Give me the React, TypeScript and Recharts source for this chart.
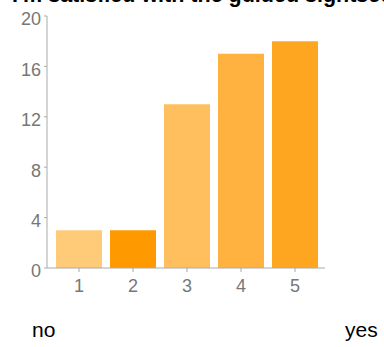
import { BarChart, Bar, XAxis, YAxis, Cell } from "recharts"

const ratings = ["1", "2", "3", "4", "5"]
const counts = [3, 3, 13, 17, 18]
const barColors = ["#FFCB78", "#FF9900", "#FFBF5F", "#FFB240", "#FFA621"]
const yTicks = [0, 4, 8, 12, 16, 20]
const title = "I'm satisfied with the guided sightseeing"
const lowLabel = "no"
const highLabel = "yes"

const data = ratings.map((r, i) => ({ rating: r, count: counts[i] }))

const font = "'Liberation Sans', Arial, sans-serif"

export default function App() {
  return (
    <div
      style={{
        position: "fixed",
        top: 0,
        left: 0,
        width: 384,
        height: 347,
        overflow: "hidden",
        background: "#fff",
        fontFamily: font,
      }}
    >
      {/* title is clipped at the top edge, as in the reference */}
      <div
        style={{
          position: "absolute",
          left: 12,
          top: -16,
          fontSize: 21.5,
          fontWeight: "bold",
          whiteSpace: "nowrap",
          color: "#000",
          lineHeight: "22px",
        }}
      >
        {title}
      </div>
      <BarChart
        width={384}
        height={347}
        data={data}
        margin={{ top: 16, right: 59, left: 0, bottom: 0 }}
      >
        <XAxis
          dataKey="rating"
          height={79}
          padding={{ left: 5, right: 3 }}
          tickSize={4}
          tickMargin={7}
          stroke="#aaa"
          tick={{ fill: "#777", fontSize: 18, fontFamily: font }}
        />
        <YAxis
          width={47}
          domain={[0, 20]}
          ticks={yTicks}
          interval={0}
          tickSize={3}
          tickMargin={3}
          stroke="#aaa"
          tick={{ fill: "#777", fontSize: 18, fontFamily: font, dy: 3 }}
        />
        <Bar dataKey="count" barSize={46} isAnimationActive={false}>
          {data.map((d, i) => (
            <Cell key={d.rating} fill={barColors[i]} />
          ))}
        </Bar>
      </BarChart>
      <div style={{ position: "absolute", left: 32, top: 318, fontSize: 21, color: "#000" }}>
        {lowLabel}
      </div>
      <div style={{ position: "absolute", left: 345, top: 318, fontSize: 21, color: "#000" }}>
        {highLabel}
      </div>
    </div>
  )
}
